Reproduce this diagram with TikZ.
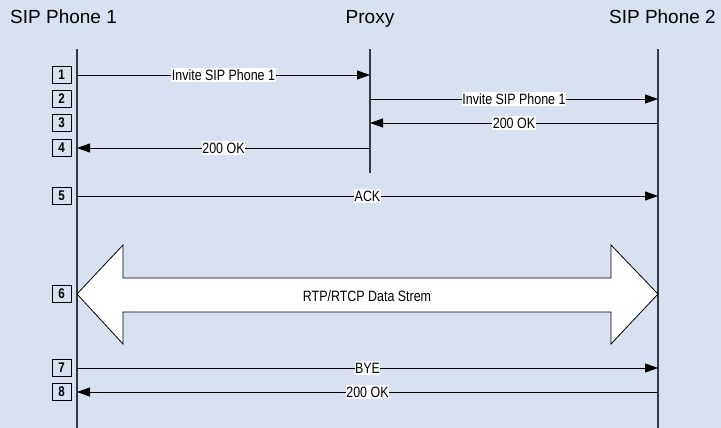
\documentclass[tikz,border=0pt]{standalone}
\usepackage{fontspec}
\setmainfont{Liberation Sans}
\newfontfamily\condfont[FakeStretch=0.83]{Liberation Sans}
\usetikzlibrary{arrows.meta}
\definecolor{bg}{RGB}{217,224,239}
\definecolor{lifec}{RGB}{55,55,60}
\begin{document}
\begin{tikzpicture}[x=1pt,y=-1pt,
  life/.style={draw=lifec,line width=1.3pt},
  msg/.style={draw=black,line width=0.9pt,-{Triangle[length=13pt,width=9pt]}},
  lbl/.style={fill=white,inner xsep=0.5pt,inner ysep=1.5pt,font=\condfont\fontsize{15}{17}\selectfont},
  head/.style={font=\fontsize{19}{22}\selectfont,inner sep=0pt},
  numbox/.style={draw=black,line width=0.9pt,minimum width=19pt,minimum height=16.5pt,inner sep=0pt,font=\condfont\bfseries\fontsize{14}{16}\selectfont},
  bigarrow/.style={draw=black,line width=0.8pt,fill=white,line join=miter}]
\fill[bg] (0,0) rectangle (721,428);
\useasboundingbox (0,0) rectangle (721,428);
% headers
\node[head,anchor=base west] (h1) at (10,24) {SIP Phone 1};
\node[head,anchor=base] (h2) at (370,24) {Proxy};
\node[head,anchor=base east] (h3) at (716,24) {SIP Phone 2};
% lifelines
\coordinate (Ltop) at (77,49); \coordinate (Lbot) at (77,428);
\coordinate (Ptop) at (370,49); \coordinate (Pbot) at (370,173);
\coordinate (Rtop) at (658,49); \coordinate (Rbot) at (658,428);
\draw[life] (Ltop) -- (Lbot);
\draw[life] (Ptop) -- (Pbot);
\draw[life] (Rtop) -- (Rbot);
% row coordinates
\foreach \n/\y in {1/75,2/99,3/123,4/148,5/196,6/294,7/368,8/392}{
  \coordinate (L\n) at (77,\y);
  \coordinate (P\n) at (370,\y);
  \coordinate (R\n) at (658,\y);
  \node[numbox] (n\n) at (61.5,\y) {\n};
}
% messages
\draw[msg] (L1) -- node[lbl] (m1) {Invite SIP Phone 1} (P1);
\draw[msg] (P2) -- node[lbl] (m2) {Invite SIP Phone 1} (R2);
\draw[msg] (R3) -- node[lbl] (m3) {200 OK} (P3);
\draw[msg] (P4) -- node[lbl] (m4) {200 OK} (L4);
\draw[msg] (L5) -- node[lbl] (m5) {ACK} (R5);
\draw[msg] (L7) -- node[lbl] (m7) {BYE} (R7);
\draw[msg] (R8) -- node[lbl] (m8) {200 OK} (L8);
% data stream double arrow
\draw[bigarrow] (L6) -- (123,245) -- (123,278) -- (611,278) -- (611,245) -- (R6)
  -- (611,344) -- (611,312) -- (123,312) -- (123,344) -- cycle;
\node[font=\condfont\fontsize{15}{17}\selectfont,inner sep=0pt] (m6) at (367,296) {RTP/RTCP Data Strem};
\end{tikzpicture}
\end{document}
